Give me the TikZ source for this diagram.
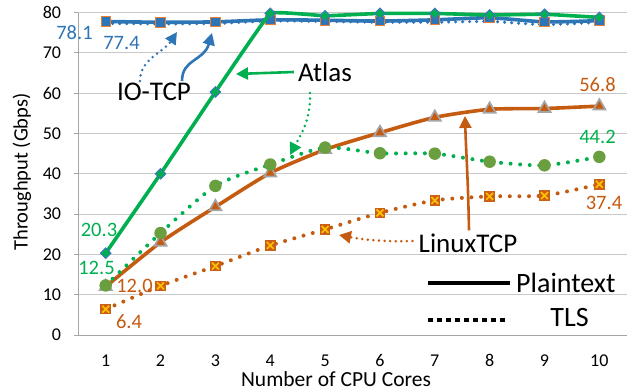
\documentclass[tikz,border=0pt]{standalone}
\usepackage{fontspec}
\setmainfont{Carlito}
\usetikzlibrary{arrows.meta,shapes.geometric}

\definecolor{ioblue}{HTML}{2E75B6}
\definecolor{atgreen}{HTML}{00B050}
\definecolor{lxorange}{HTML}{C55A11}
\definecolor{olivemk}{HTML}{6A9F3F}
\definecolor{mkorange}{HTML}{ED7D31}
\definecolor{dmblue}{HTML}{4472C4}
\definecolor{trigray}{HTML}{A5A5A5}
\definecolor{goldmk}{HTML}{FFC000}
\definecolor{gridgray}{HTML}{C8C8C8}
\definecolor{axisgray}{HTML}{A6A6A6}

\begin{document}
\begin{tikzpicture}[x=1pt,y=1pt,
  gridline/.style={draw=gridgray, line width=1pt},
  solidser/.style={line width=3.6pt, line cap=round, line join=round},
  dotser/.style={line width=4pt, line cap=round, dash pattern=on 0pt off 9.6pt},
  sqmark/.style={rectangle, inner sep=0pt, minimum size=9.5pt, fill=ioblue, draw=mkorange, line width=0.9pt},
  dimark/.style={diamond, inner sep=0pt, minimum size=11pt, fill=atgreen, draw=dmblue, line width=0.9pt},
  cimark/.style={circle, inner sep=0pt, minimum size=12.5pt, fill=olivemk},
  trimark/.style={regular polygon, regular polygon sides=3, inner sep=0pt, minimum size=14pt, fill=lxorange, draw=trigray, line width=1.7pt},
  xmark/.style={rectangle, inner sep=0pt, minimum size=10.5pt, fill=lxorange!85!mkorange,
    path picture={\draw[goldmk, line width=1.7pt]
      ([shift={(1.8pt,1.8pt)}]path picture bounding box.south west) -- ([shift={(-1.8pt,-1.8pt)}]path picture bounding box.north east)
      ([shift={(1.8pt,-1.8pt)}]path picture bounding box.north west) -- ([shift={(-1.8pt,1.8pt)}]path picture bounding box.south east);}},
  ticklbl/.style={font=\fontsize{18}{18}\selectfont, inner sep=0pt},
  datalbl/.style={font=\fontsize{20.5}{20.5}\selectfont, inner sep=0pt},
  annot/.style={font=\fontsize{27}{27}\selectfont, inner sep=0pt},
  legendtxt/.style={font=\fontsize{28}{28}\selectfont, inner sep=0pt},
  bigtip/.style={-{Triangle[length=12pt,width=12pt]}},
  solidarrow/.style={bigtip, line width=2.6pt},
  dotarrow/.style={bigtip, line width=2.8pt, line cap=round, dash pattern=on 0pt off 5.6pt},
]
\useasboundingbox (0,0) rectangle (634,391);

% ---------- data frame: (cores, Gbps) ----------
\begin{scope}[shift={(50.85,56)}, x=54.85pt, y=4.03pt]
  % grid, axes and tick marks
  \foreach \v in {10,20,...,80} \draw[gridline] (0.5,\v) -- (10.5,\v);
  \foreach \v in {0,10,...,80} \draw[axisgray, line width=1pt] ([xshift=-4pt]0.5,\v) -- (0.5,\v);
  \draw[axisgray, line width=1pt] (0.5,80) -- (0.5,0) -- (10.5,0);
  % tick labels
  \foreach \v in {0,10,...,80}
    \node[ticklbl, anchor=east] (yt\v) at ([xshift=-17pt]0.5,\v) {\v};
  \foreach \n in {1,...,10}
    \node[ticklbl, anchor=base] (xt\n) at ([yshift=-31.5pt]\n,0) {\n};

  % IO-TCP, TLS
  \draw[dotser, ioblue, line width=3.4pt, dash pattern=on 0pt off 7pt] plot[smooth, tension=0.4] coordinates
    {(1,77.3) (2,77.2) (3,77.3) (4,77.9) (5,77.8) (6,77.6) (7,77.6) (8,77.8) (9,77.0) (10,77.6)};
  % IO-TCP, plaintext
  \draw[solidser, ioblue] plot[smooth, tension=0.4] coordinates
    {(1,77.8) (2,77.6) (3,77.7) (4,78.2) (5,78.1) (6,77.9) (7,78.2) (8,78.7) (9,77.7) (10,78.0)};
  \foreach \n/\v in {1/77.8,2/77.6,3/77.7,4/78.2,5/78.1,6/77.9,7/78.2,8/78.7,9/77.7,10/78.0}
    \node[sqmark] (io\n) at (\n,\v) {};

  % LinuxTCP, TLS
  \draw[dotser, lxorange] plot[smooth, tension=0.4] coordinates
    {(1,6.4) (2,12.2) (3,17.1) (4,22.2) (5,26.2) (6,30.3) (7,33.4) (8,34.4) (9,34.6) (10,37.4)};
  \foreach \n/\v in {1/6.4,2/12.2,3/17.1,4/22.2,5/26.2,6/30.3,7/33.4,8/34.4,9/34.6,10/37.4}
    \node[xmark] (lt\n) at (\n,\v) {};
  % LinuxTCP, plaintext
  \draw[solidser, lxorange] plot[smooth, tension=0.4] coordinates
    {(1,12.0) (2,23.0) (3,31.8) (4,40.2) (5,46.0) (6,50.2) (7,54.0) (8,56.0) (9,56.2) (10,56.8)};
  \foreach \n/\v in {1/12.0,2/23.0,3/31.8,4/40.2,5/46.0,6/50.2,7/54.0,8/56.0,9/56.2,10/56.8}
    \node[trimark] (lp\n) at (\n,\v) {};

  % Atlas, TLS
  \draw[dotser, atgreen] plot[smooth, tension=0.4] coordinates
    {(1,12.3) (2,25.3) (3,37.0) (4,42.3) (5,46.5) (6,45.1) (7,45.0) (8,43.0) (9,42.1) (10,44.2)};
  \foreach \n/\v in {1/12.3,2/25.3,3/37.0,4/42.3,5/46.5,6/45.1,7/45.0,8/43.0,9/42.1,10/44.2}
    \node[cimark] (at\n) at (\n,\v) {};
  % Atlas, plaintext
  \draw[solidser, atgreen] plot[smooth, tension=0.12] coordinates
    {(1,20.3) (2,40.0) (3,60.3) (4,79.8) (5,79.2) (6,79.8) (7,79.8) (8,79.4) (9,79.6) (10,78.8)};
  \foreach \n/\v in {1/20.3,2/40.0,3/60.3,4/79.8,5/79.2,6/79.8,7/79.8,8/79.4,9/79.6,10/78.8}
    \node[dimark] (ap\n) at (\n,\v) {};
\end{scope}

% ---------- axis titles ----------
\node[font=\fontsize{20.5}{20.5}\selectfont, rotate=90, inner sep=0pt] (ytitle) at (22,219) {Throughput (Gbps)};
\node[font=\fontsize{21.5}{21.5}\selectfont, inner sep=0pt, anchor=base] (xtitle) at (336,4.5) {Number of CPU Cores};

% ---------- data labels ----------
\node[datalbl, text=ioblue] (l781) at (74.5,358) {78.1};
\node[datalbl, text=ioblue] (l774) at (121.5,348) {77.4};
\node[datalbl, text=lxorange] (l568) at (597.5,306) {56.8};
\node[datalbl, text=atgreen] (l442) at (597.5,254) {44.2};
\node[datalbl, text=lxorange] (l374) at (604,188) {37.4};
\node[datalbl, text=atgreen] (l203) at (99,161) {20.3};
\node[datalbl, text=atgreen] (l125) at (96.5,123) {12.5};
\node[datalbl, text=lxorange] (l120) at (134.5,105) {12.0};
\node[datalbl, text=lxorange] (l64) at (129,69) {6.4};

% ---------- annotations ----------
\node[annot] (iotcp) at (154,299) {IO-TCP};
\node[annot] (atlas) at (325,319) {Atlas};
\node[annot] (linux) at (468,148) {LinuxTCP};

\coordinate (ioTipA) at (212,358);
\coordinate (ioTipB) at (177,359);
\coordinate (atTipA) at (236,317);
\coordinate (atTipB) at (290,236);
\coordinate (lxTipA) at (465,275);
\coordinate (lxTipB) at (339,156);

\draw[solidarrow, ioblue] ([xshift=28pt,yshift=2pt]iotcp.north) .. controls +(0,22) and (204,330) .. (ioTipA);
\draw[dotarrow, ioblue] ([xshift=-14pt,yshift=2pt]iotcp.north) .. controls +(0,22) and (163,338) .. (ioTipB);
\draw[solidarrow, atgreen] ([xshift=-4pt]atlas.west) -- (atTipA);
\draw[dotarrow, atgreen] (310,298) .. controls (311,270) and (300,255) .. (atTipB);
\draw[solidarrow, lxorange] ([xshift=1pt,yshift=3pt]linux.north) .. controls (468,215) and (466,240) .. (lxTipA);
\draw[dotarrow, lxorange] ([xshift=-6pt,yshift=2pt]linux.west) .. controls (380,149) and (360,152) .. (lxTipB);

% ---------- legend ----------
\coordinate (lgA) at (428,108);
\coordinate (lgB) at (510,108);
\coordinate (lgC) at (428,71);
\coordinate (lgD) at (508,71);
\draw[line width=4pt] (lgA) -- (lgB);
\draw[line width=4pt, dash pattern=on 5pt off 4pt] (lgC) -- (lgD);
\node[legendtxt, anchor=west] (plain) at (516,108) {Plaintext};
\node[legendtxt] (tls) at (569.5,73) {TLS};
\end{tikzpicture}
\end{document}
